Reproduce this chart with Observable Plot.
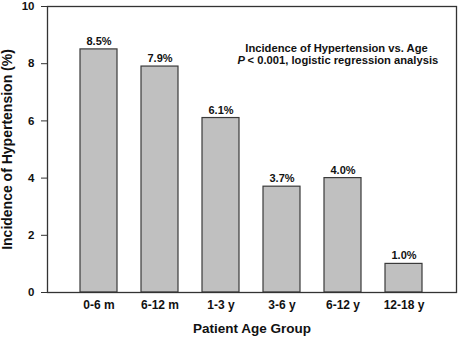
<!DOCTYPE html>
<html>
<head>
<meta charset="utf-8">
<script src="https://cdn.jsdelivr.net/npm/d3@7"></script>
<script src="https://cdn.jsdelivr.net/npm/@observablehq/plot@0.6"></script>
<style>
  body { margin: 0; background: #fff; }
  svg { font-family: "Liberation Sans", Arial, sans-serif; font-weight: bold; }
</style>
</head>
<body>
<div id="chart"></div>
<script>
const groups = ["0-6 m", "6-12 m", "1-3 y", "3-6 y", "6-12 y", "12-18 y"];
const incidence = [8.5, 7.9, 6.1, 3.7, 4.0, 1.0];
const barLabels = ["8.5%", "7.9%", "6.1%", "3.7%", "4.0%", "1.0%"];
const yTicks = [0, 2, 4, 6, 8, 10];
const titleLine = "Incidence of Hypertension vs. Age";
const pLetter = "P";
const pRest = " < 0.001, logistic regression analysis";

const data = groups.map((g, i) => ({group: g, value: incidence[i], label: barLabels[i]}));

const chart = Plot.plot({
  width: 458,
  height: 338,
  marginLeft: 47,
  marginRight: 2,
  marginTop: 6,
  marginBottom: 46,
  style: {fontFamily: "'Liberation Sans', Arial, sans-serif", fontWeight: "bold", color: "#111", background: "#fff"},
  x: {domain: groups, paddingInner: 0.387, paddingOuter: 0.5},
  y: {domain: [0, 10]},
  marks: [
    Plot.barY(data, {x: "group", y: "value", fill: "#c0c0c0", stroke: "#3a3a3a", strokeWidth: 1.2}),
    Plot.text(data, {x: "group", y: "value", text: "label", dy: -8, fontSize: 11, fontWeight: "bold", fill: "#111"}),
    Plot.frame({stroke: "#333", strokeWidth: 1.3}),
    Plot.axisY(yTicks, {tickSize: 6, tickPadding: 7, fontSize: 11.5, fontWeight: "bold", stroke: "#333",
      label: "Incidence of Hypertension (%)", labelAnchor: "center", labelArrow: "none", labelOffset: 45}),
    Plot.axisX({tickSize: 0, tickPadding: 8, fontSize: 12, fontWeight: "bold",
      label: "Patient Age Group", labelAnchor: "center", labelArrow: "none", labelOffset: 40}),
    Plot.text([titleLine], {frameAnchor: "top-left", dx: 289, dy: 38, text: d => d, textAnchor: "middle", fontSize: 11.2, fontWeight: "bold", fill: "#111"}),
    Plot.text([pLetter], {frameAnchor: "top-left", dx: 190, dy: 50, text: d => d, textAnchor: "start", fontSize: 11.2, fontWeight: "bold", fontStyle: "italic", fill: "#111"}),
    Plot.text([pRest], {frameAnchor: "top-left", dx: 197, dy: 50, text: d => d, textAnchor: "start", fontSize: 11.2, fontWeight: "bold", fill: "#111"})
  ]
});
chart.querySelectorAll("[aria-label='y-axis label'] text").forEach(t => t.setAttribute("font-size", 14));
chart.querySelectorAll("[aria-label='x-axis label'] text").forEach(t => t.setAttribute("font-size", 13.5));
document.getElementById("chart").appendChild(chart);
</script>
</body>
</html>
